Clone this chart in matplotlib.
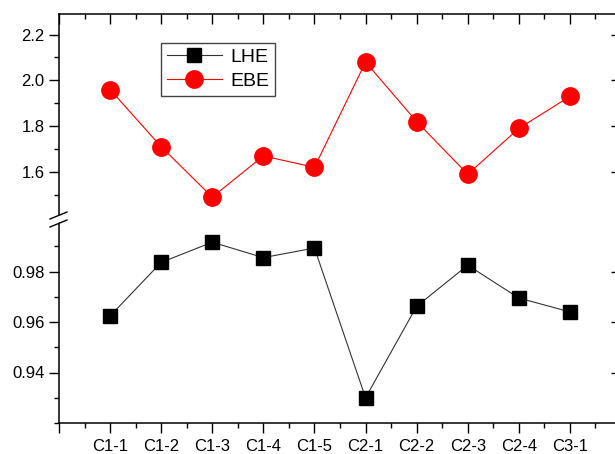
import matplotlib
matplotlib.use("Agg")
import matplotlib.pyplot as plt
import numpy as np
from matplotlib.lines import Line2D
from matplotlib.patches import Polygon
from matplotlib.ticker import MultipleLocator

plt.rcParams["font.family"] = ["Liberation Sans", "DejaVu Sans"]

samples = ["C1-1", "C1-2", "C1-3", "C1-4", "C1-5",
           "C2-1", "C2-2", "C2-3", "C2-4", "C3-1"]
lhe = [0.9624, 0.9836, 0.9916, 0.9855, 0.9893,
       0.9300, 0.9662, 0.9825, 0.9695, 0.9640]
ebe = [1.96, 1.71, 1.49, 1.67, 1.62, 2.08, 1.82, 1.59, 1.79, 1.93]

W, H = 615, 454
fig = plt.figure(figsize=(W / 100, H / 100), dpi=100)


def frac_box(x0, y_top, x1, y_bot):
    # pixel box (origin top-left) -> figure fraction rect
    return [x0 / W, 1 - y_bot / H, (x1 - x0) / W, (y_bot - y_top) / H]


ax_top = fig.add_axes(frac_box(59, 14, 621, 220))
ax_bot = fig.add_axes(frac_box(59, 221, 621, 423))

x = np.arange(1, len(samples) + 1)

ax_top.plot(x, ebe, color="#ff0000", lw=0.8, marker="o", ms=12.5,
            mec="#ff0000", mfc="#ff0000", label="EBE")
ax_bot.plot(x, lhe, color="#333333", lw=0.8, marker="s", ms=10.5,
            mec="black", mfc="black", label="LHE")

for ax in (ax_top, ax_bot):
    ax.set_xlim(0, 11)
    ax.xaxis.set_major_locator(MultipleLocator(1))
    ax.xaxis.set_minor_locator(MultipleLocator(0.5))
    for side in ax.spines.values():
        side.set_linewidth(1.1)
    ax.tick_params(axis="y", which="both", left=True, right=True,
                   labelsize=12, width=1.0, direction="out")
    ax.tick_params(axis="y", which="major", length=7)
    ax.tick_params(axis="y", which="minor", length=3.8)

# top panel
ax_top.set_ylim(1.39, 2.29)
ax_top.yaxis.set_minor_locator(MultipleLocator(0.1))
ax_top.set_yticks([1.6, 1.8, 2.0, 2.2])
ax_top.set_yticklabels(["1.6", "1.8", "2.0", "2.2"])
ax_top.spines["bottom"].set_visible(False)
ax_top.tick_params(axis="x", which="both", bottom=False, labelbottom=False,
                   top=True, direction="in", width=1.0)
ax_top.tick_params(axis="x", which="major", length=7)
ax_top.tick_params(axis="x", which="minor", length=3.8)

# bottom panel
ax_bot.set_ylim(0.92, 1.0)
ax_bot.yaxis.set_minor_locator(MultipleLocator(0.01))
ax_bot.set_yticks([0.94, 0.96, 0.98])
ax_bot.set_yticklabels(["0.94", "0.96", "0.98"])
ax_bot.spines["top"].set_visible(False)
ax_bot.set_xticks(np.arange(0, 12))
ax_bot.set_xticklabels([""] + samples + [""])
ax_bot.tick_params(axis="x", which="both", bottom=True, top=False,
                   direction="out", labelsize=12, width=1.0)
ax_bot.tick_params(axis="x", which="major", length=7, pad=4.5)
ax_bot.tick_params(axis="x", which="minor", length=3.8)

# right ticks point inward
for ax in (ax_top, ax_bot):
    for t in ax.yaxis.get_major_ticks() + ax.yaxis.get_minor_ticks():
        t.tick2line.set_marker(matplotlib.lines.TICKLEFT)

# axis break marks on the left spine
bx, by = 59, 220
gap = Polygon([((bx - 8) / W, 1 - (by + 6) / H), ((bx + 8) / W, 1 - (by - 1) / H),
               ((bx + 8) / W, 1 - (by - 8) / H), ((bx - 8) / W, 1 - (by - 1) / H)],
              closed=True, transform=fig.transFigure, fc="white", ec="none",
              zorder=10)
fig.add_artist(gap)
for dy in (-4, 4):
    fig.add_artist(Line2D([(bx - 9) / W, (bx + 8) / W],
                          [1 - (by + dy + 3) / H, 1 - (by + dy - 4) / H],
                          transform=fig.transFigure, color="black", lw=1.0,
                          zorder=11))

handles = [ax_bot.lines[0], ax_top.lines[0]]
leg = ax_top.legend(handles, ["LHE", "EBE"], loc="upper left",
                    bbox_to_anchor=(0.182, 0.86), borderaxespad=0,
                    fontsize=14, handlelength=2.8, handletextpad=0.45,
                    labelspacing=0.3, borderpad=0.3, fancybox=False,
                    framealpha=1, edgecolor="#444444")
leg.get_frame().set_linewidth(1.0)

fig.savefig("out.png", dpi=100)
